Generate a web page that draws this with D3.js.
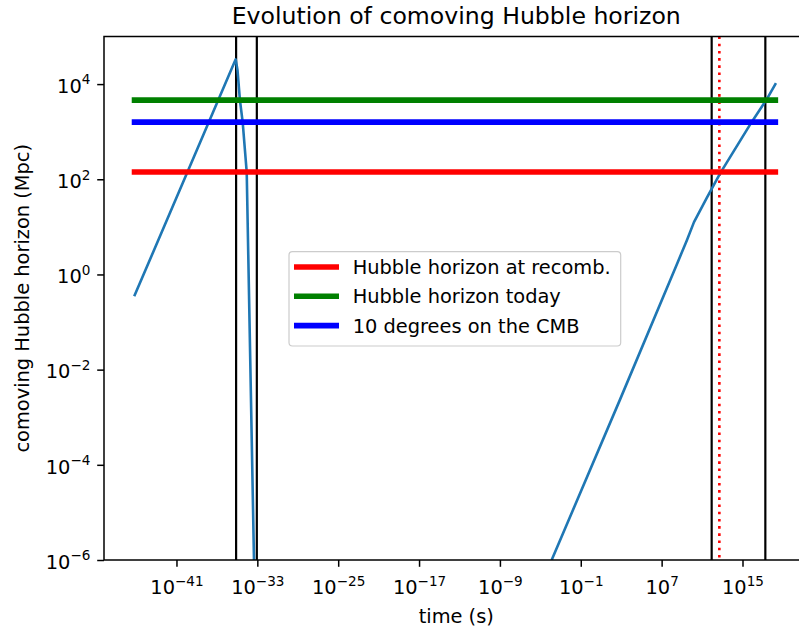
<!DOCTYPE html>
<html>
<head>
<meta charset="utf-8">
<script src="https://cdn.jsdelivr.net/npm/d3@7"></script>
<style>
  html, body { margin: 0; padding: 0; background: #fff; }
  svg { display: block; font-family: "DejaVu Sans", sans-serif; }
</style>
</head>
<body>
<svg id="chart" width="799" height="632"></svg>
<script>
// ---------- data (log10 values) ----------
const branch1LogT = [-45.18, -35.14, -34.96, -34.72, -34.45, -34.05, -33.33];
const branch1LogR = [-0.46, 4.52, 4.29, 3.66, 3.20, 2.15, -6.0];
const branch2LogT = [-3.88, 2.88, 8.5, 9.5, 10.2, 11.44, 12.8, 15.9, 17.45, 18.31];
const branch2LogR = [-6.0, -2.63, 0.21, 0.72, 1.1, 1.6, 2.13, 3.20, 3.70, 4.02];

const hlineLabels = ["Hubble horizon at recomb.", "Hubble horizon today", "10 degrees on the CMB"];
const hlineValues = [142, 4600, 1590];          // Mpc
const hlineColors = ["#ff0000", "#008000", "#0000ff"];
const hlineSpanLogT = [-45.15, 18.25];

const vlineLogT = [-35.1, -33.05, 11.95, 17.26];  // black solid
const recombLogT = [12.71];                      // red dotted

const xTickExps = [-41, -33, -25, -17, -9, -1, 7, 15];
const yTickExps = [-6, -4, -2, 0, 2, 4];
const xDomainLog = [-48.17, 21.53];
const yDomainLog = [-6, 5];

// ---------- layout ----------
const svg = d3.select("#chart");
const L = 104, R = 808.5, T = 36.5, B = 560;
const x = d3.scaleLog().domain(xDomainLog.map(e => Math.pow(10, e))).range([L, R]);
const y = d3.scaleLog().domain(yDomainLog.map(e => Math.pow(10, e))).range([B, T]);

svg.append("defs").append("clipPath").attr("id", "clip")
  .append("rect").attr("x", L).attr("y", T).attr("width", R - L).attr("height", B - T);

const plot = svg.append("g").attr("clip-path", "url(#clip)");

// vertical lines
plot.selectAll("line.v").data(vlineLogT).enter().append("line")
  .attr("x1", d => x(Math.pow(10, d))).attr("x2", d => x(Math.pow(10, d)))
  .attr("y1", T).attr("y2", B)
  .attr("stroke", "#000").attr("stroke-width", 2.2);

plot.selectAll("line.r").data(recombLogT).enter().append("line")
  .attr("x1", d => x(Math.pow(10, d))).attr("x2", d => x(Math.pow(10, d)))
  .attr("y1", T).attr("y2", B)
  .attr("stroke", "#ff0000").attr("stroke-width", 2.6)
  .attr("stroke-dasharray", "2.6,4.6");

// curve
const line = d3.line()
  .x(d => x(Math.pow(10, d[0]))).y(d => y(Math.pow(10, d[1])));
[[branch1LogT, branch1LogR], [branch2LogT, branch2LogR]].forEach(([ts, rs]) => {
  plot.append("path")
    .attr("d", line(ts.map((t, i) => [t, rs[i]])))
    .attr("fill", "none").attr("stroke", "#1f77b4").attr("stroke-width", 2.6)
    .attr("stroke-linejoin", "round");
});

// horizontal lines
hlineValues.forEach((v, i) => {
  plot.append("line")
    .attr("x1", x(Math.pow(10, hlineSpanLogT[0]))).attr("x2", x(Math.pow(10, hlineSpanLogT[1])))
    .attr("y1", y(v)).attr("y2", y(v))
    .attr("stroke", hlineColors[i]).attr("stroke-width", 5.6)
    .attr("stroke-linecap", "square");
});

// axes
const fs = 19.4;
const xAxis = d3.axisBottom(x).tickValues(xTickExps.map(e => Math.pow(10, e))).tickFormat("").tickSize(6.8).tickSizeOuter(0);
const gx = svg.append("g").attr("transform", `translate(0,${B})`).call(xAxis);
const yAxis = d3.axisLeft(y).tickValues(yTickExps.map(e => Math.pow(10, e))).tickFormat("").tickSize(6.8).tickSizeOuter(0);
const gy = svg.append("g").attr("transform", `translate(${L},0)`).call(yAxis);
[gx, gy].forEach(g => {
  g.select(".domain").remove();
  g.selectAll(".tick line").attr("stroke", "#000").attr("stroke-width", 1.5);
});

function supLabel(sel, exp) {
  const s = String(exp).replace("-", "\u2212");
  sel.append("tspan").text("10");
  sel.append("tspan").attr("font-size", fs * 0.7).attr("dy", -8.5).text(s);
}
gx.selectAll(".tick").each(function(d, i) {
  const t = d3.select(this).append("text")
    .attr("x", 0).attr("y", 594).attr("transform", `translate(0,${-B})`)
    .attr("text-anchor", "middle").attr("fill", "#000").attr("font-size", fs)
    .attr("font-family", "DejaVu Sans");
  supLabel(t, xTickExps[i]);
});
gy.selectAll(".tick").each(function(d, i) {
  const t = d3.select(this).append("text")
    .attr("x", -13.6).attr("y", 8.3)
    .attr("text-anchor", "end").attr("fill", "#000").attr("font-size", fs)
    .attr("font-family", "DejaVu Sans");
  supLabel(t, yTickExps[i]);
});

// frame
svg.append("rect").attr("x", L).attr("y", T).attr("width", R - L).attr("height", B - T)
  .attr("fill", "none").attr("stroke", "#000").attr("stroke-width", 1.5);

// labels
svg.append("text").attr("x", (L + R) / 2).attr("y", 23.5).attr("text-anchor", "middle")
  .attr("font-size", 23.6).attr("fill", "#000").text("Evolution of comoving Hubble horizon");
svg.append("text").attr("x", (L + R) / 2).attr("y", 623).attr("text-anchor", "middle")
  .attr("font-size", fs).attr("fill", "#000").text("time (s)");
svg.append("text").attr("transform", `translate(29,${(T + B) / 2}) rotate(-90)`)
  .attr("text-anchor", "middle").attr("font-size", fs).attr("fill", "#000")
  .text("comoving Hubble horizon (Mpc)");

// legend
const lg = svg.append("g");
const box = lg.append("rect").attr("x", 289).attr("y", 251.7).attr("height", 94.3)
  .attr("rx", 3.5).attr("fill", "#fff").attr("fill-opacity", 0.8)
  .attr("stroke", "#cccccc").attr("stroke-width", 1.2);
let maxEnd = 0;
hlineLabels.forEach((lab, i) => {
  const yy = 267 + i * 29.3;
  lg.append("line").attr("x1", 294).attr("x2", 339).attr("y1", yy).attr("y2", yy)
    .attr("stroke", hlineColors[i]).attr("stroke-width", 5.6);
  const t = lg.append("text").attr("x", 352.7).attr("y", yy + 7).attr("font-size", fs)
    .attr("fill", "#000").text(lab);
  maxEnd = Math.max(maxEnd, 352.7 + t.node().getComputedTextLength());
});
box.attr("width", maxEnd + 10 - 289);
</script>
</body>
</html>
